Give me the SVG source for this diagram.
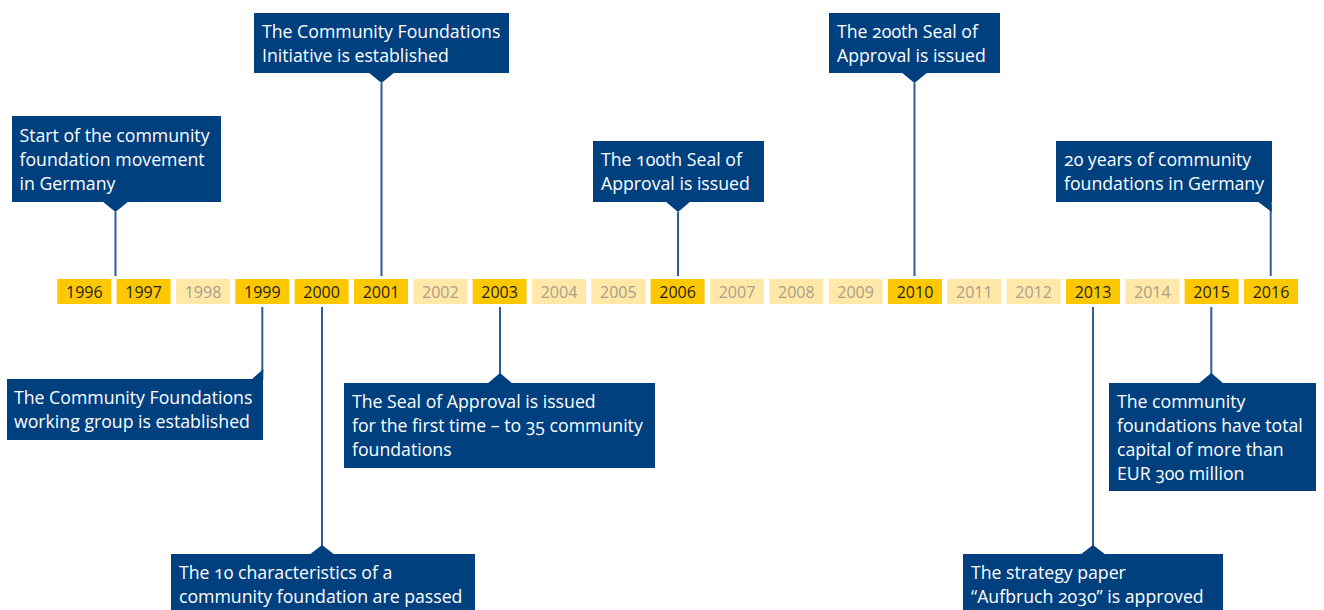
<svg xmlns="http://www.w3.org/2000/svg" width="1324" height="610" viewBox="0 0 1324 610">
<style>
.yr{fill:#fdc800}
.yr.off{fill:#ffe8a8}
.yt{font-family:"Open Sans","Noto Sans",sans-serif;font-size:16px;fill:#1e1e1e;text-anchor:middle}
.off .yt,.yt.off{fill:#a8a08a}
.box{fill:#00407e}
.ct{font-family:"Open Sans","Noto Sans",sans-serif;font-size:17.7px;fill:#ffffff;font-variant-numeric:oldstyle-nums}
.ln{stroke:#2d5d98;stroke-width:2;fill:none}
</style>
<rect width="1324" height="610" fill="#ffffff"/>
<g id="connectors">
<line class="ln" x1="115.5" y1="212" x2="115.5" y2="276"/>
<line class="ln" x1="381.5" y1="83" x2="381.5" y2="276"/>
<line class="ln" x1="914.5" y1="83" x2="914.5" y2="276"/>
<line class="ln" x1="678" y1="212" x2="678" y2="276"/>
<line class="ln" x1="1270.7" y1="205" x2="1270.7" y2="276"/>
<line class="ln" x1="262.3" y1="307" x2="262.3" y2="372"/>
<line class="ln" x1="322" y1="307" x2="322" y2="547"/>
<line class="ln" x1="500" y1="307" x2="500" y2="375"/>
<line class="ln" x1="1093" y1="307" x2="1093" y2="547"/>
<line class="ln" x1="1211.3" y1="307" x2="1211.3" y2="375"/>
</g>
<g id="years">
<g id="y1996"><rect class="yr" x="57.3" y="279" width="54" height="25"/><text class="yt" x="84.3" y="297.5">1996</text></g>
<g id="y1997"><rect class="yr" x="116.6" y="279" width="54" height="25"/><text class="yt" x="143.6" y="297.5">1997</text></g>
<g id="y1998"><rect class="yr off" x="176" y="279" width="54" height="25"/><text class="yt off" x="203" y="297.5">1998</text></g>
<g id="y1999"><rect class="yr" x="235.3" y="279" width="54" height="25"/><text class="yt" x="262.3" y="297.5">1999</text></g>
<g id="y2000"><rect class="yr" x="294.6" y="279" width="54" height="25"/><text class="yt" x="321.6" y="297.5">2000</text></g>
<g id="y2001"><rect class="yr" x="354" y="279" width="54" height="25"/><text class="yt" x="381" y="297.5">2001</text></g>
<g id="y2002"><rect class="yr off" x="413.3" y="279" width="54" height="25"/><text class="yt off" x="440.3" y="297.5">2002</text></g>
<g id="y2003"><rect class="yr" x="472.6" y="279" width="54" height="25"/><text class="yt" x="499.6" y="297.5">2003</text></g>
<g id="y2004"><rect class="yr off" x="532" y="279" width="54" height="25"/><text class="yt off" x="559" y="297.5">2004</text></g>
<g id="y2005"><rect class="yr off" x="591.3" y="279" width="54" height="25"/><text class="yt off" x="618.3" y="297.5">2005</text></g>
<g id="y2006"><rect class="yr" x="650.6" y="279" width="54" height="25"/><text class="yt" x="677.6" y="297.5">2006</text></g>
<g id="y2007"><rect class="yr off" x="710" y="279" width="54" height="25"/><text class="yt off" x="737" y="297.5">2007</text></g>
<g id="y2008"><rect class="yr off" x="769.3" y="279" width="54" height="25"/><text class="yt off" x="796.3" y="297.5">2008</text></g>
<g id="y2009"><rect class="yr off" x="828.6" y="279" width="54" height="25"/><text class="yt off" x="855.6" y="297.5">2009</text></g>
<g id="y2010"><rect class="yr" x="888" y="279" width="54" height="25"/><text class="yt" x="915" y="297.5">2010</text></g>
<g id="y2011"><rect class="yr off" x="947.3" y="279" width="54" height="25"/><text class="yt off" x="974.3" y="297.5">2011</text></g>
<g id="y2012"><rect class="yr off" x="1006.6" y="279" width="54" height="25"/><text class="yt off" x="1033.6" y="297.5">2012</text></g>
<g id="y2013"><rect class="yr" x="1066" y="279" width="54" height="25"/><text class="yt" x="1093" y="297.5">2013</text></g>
<g id="y2014"><rect class="yr off" x="1125.3" y="279" width="54" height="25"/><text class="yt off" x="1152.3" y="297.5">2014</text></g>
<g id="y2015"><rect class="yr" x="1184.6" y="279" width="54" height="25"/><text class="yt" x="1211.6" y="297.5">2015</text></g>
<g id="y2016"><rect class="yr" x="1244" y="279" width="54" height="25"/><text class="yt" x="1271" y="297.5">2016</text></g>
</g>
<g id="c1996"><rect class="box" x="12" y="116" width="209" height="86"/><polygon class="box" points="102,201 129,201 115.5,212"/>
<text class="ct" x="19.5" y="141.5">Start of the community</text><text class="ct" x="19.5" y="165.5">foundation movement</text><text class="ct" x="19.5" y="189.5">in Germany</text></g>
<g id="c2001"><rect class="box" x="254" y="13" width="255" height="60"/><polygon class="box" points="368,72 395,72 381.5,83"/>
<text class="ct" x="262" y="38">The Community Foundations</text><text class="ct" x="262" y="62">Initiative is established</text></g>
<g id="c2010"><rect class="box" x="829" y="13" width="171" height="60"/><polygon class="box" points="901,72 928,72 914.5,83"/>
<text class="ct" x="837" y="38">The 200th Seal of</text><text class="ct" x="837" y="62">Approval is issued</text></g>
<g id="c2006"><rect class="box" x="593" y="141" width="171" height="61"/><polygon class="box" points="665,201 691,201 678,212"/>
<text class="ct" x="601" y="166">The 100th Seal of</text><text class="ct" x="601" y="190">Approval is issued</text></g>
<g id="c2016"><rect class="box" x="1056" y="141" width="216" height="61"/><polygon class="box" points="1257,201 1271.7,201 1271.7,212"/>
<text class="ct" x="1064" y="166">20 years of community</text><text class="ct" x="1064" y="190">foundations in Germany</text></g>
<g id="c1999"><rect class="box" x="7" y="379" width="256" height="61"/><polygon class="box" points="251,380 263.3,380 263.3,369"/>
<text class="ct" x="14" y="404">The Community Foundations</text><text class="ct" x="14" y="428">working group is established</text></g>
<g id="c2000"><rect class="box" x="171" y="554" width="304" height="60"/><polygon class="box" points="309,555 335,555 322,545"/>
<text class="ct" x="179" y="579">The 10 characteristics of a</text><text class="ct" x="179" y="603">community foundation are passed</text></g>
<g id="c2003"><rect class="box" x="344" y="383" width="311" height="85"/><polygon class="box" points="487,384 513,384 500,373"/>
<text class="ct" x="352" y="408">The Seal of Approval is issued</text><text class="ct" x="352" y="432">for the first time – to 35 community</text><text class="ct" x="352" y="456">foundations</text></g>
<g id="c2013"><rect class="box" x="963" y="554" width="260" height="60"/><polygon class="box" points="1080,555 1106,555 1093,545"/>
<text class="ct" x="971" y="579">The strategy paper</text><text class="ct" x="971" y="603">“Aufbruch 2030” is approved</text></g>
<g id="c2015"><rect class="box" x="1109" y="383" width="207" height="108"/><polygon class="box" points="1198,384 1224,384 1211.3,373"/>
<text class="ct" x="1117" y="408">The community</text><text class="ct" x="1117" y="432">foundations have total</text><text class="ct" x="1117" y="456">capital of more than</text><text class="ct" x="1117" y="480">EUR 300 million</text></g>
</svg>
